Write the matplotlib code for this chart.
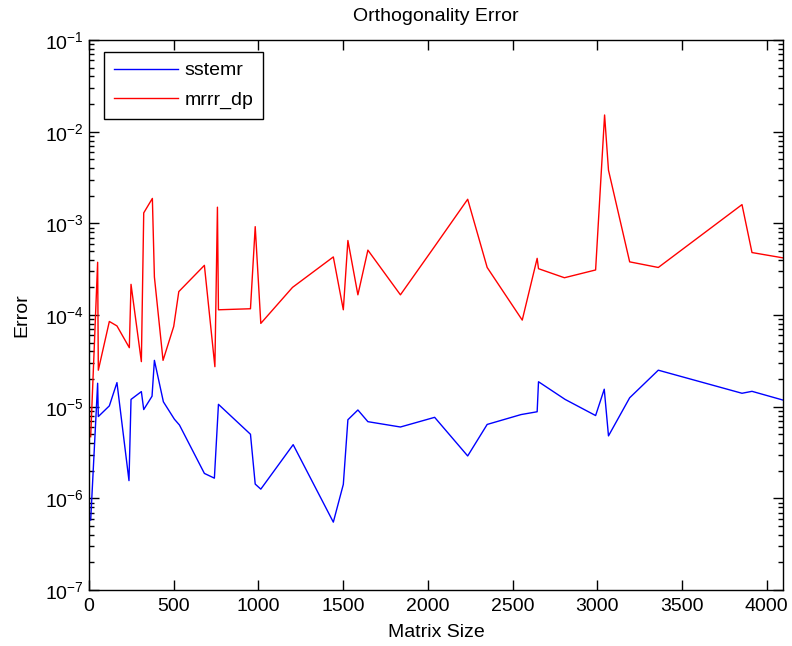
import matplotlib
matplotlib.use("Agg")
import matplotlib.pyplot as plt
from matplotlib.ticker import LogLocator, NullFormatter

plt.rcParams['font.family'] = ['Liberation Sans', 'DejaVu Sans']

# Data
sstemr_x = [10, 51, 55, 120, 165, 236, 248, 309, 323, 372, 386, 439, 504, 534,
            681, 740, 764, 953, 981, 1014, 1205, 1442, 1501, 1528, 1587, 1646,
            1838, 2040, 2235, 2350, 2550, 2645, 2653, 2810, 2990, 3041, 3066,
            3191, 3360, 3854, 3913, 4096]
sstemr_y = [5.8e-7, 1.8e-5, 7.8e-6, 1.02e-5, 1.83e-5, 1.56e-6, 1.2e-5, 1.46e-5,
            9.3e-6, 1.3e-5, 3.2e-5, 1.13e-5, 7.3e-6, 6.3e-6, 1.87e-6, 1.66e-6,
            1.06e-5, 5.0e-6, 1.43e-6, 1.26e-6, 3.85e-6, 5.5e-7, 1.42e-6, 7.2e-6,
            9.2e-6, 6.86e-6, 6.0e-6, 7.65e-6, 2.9e-6, 6.4e-6, 8.2e-6, 8.8e-6,
            1.87e-5, 1.2e-5, 8.0e-6, 1.55e-5, 4.8e-6, 1.25e-5, 2.5e-5, 1.4e-5,
            1.47e-5, 1.18e-5]

mrrr_x = [10, 51, 55, 120, 165, 238, 248, 309, 323, 374, 386, 437, 500, 530,
          681, 743, 758, 764, 953, 981, 1014, 1201, 1442, 1501, 1528, 1587, 1646,
          1838, 2040, 2235, 2350, 2557, 2645, 2653, 2806, 2990, 3043, 3066, 3191,
          3360, 3854, 3913, 4096]
mrrr_y = [4.7e-6, 3.76e-4, 2.5e-5, 8.5e-5, 7.6e-5, 4.4e-5, 2.16e-4, 3.1e-5,
          1.3e-3, 1.87e-3, 2.6e-4, 3.2e-5, 7.5e-5, 1.8e-4, 3.48e-4, 2.73e-5,
          1.5e-3, 1.14e-4, 1.17e-4, 9.2e-4, 8.1e-5, 2.0e-4, 4.3e-4, 1.14e-4,
          6.5e-4, 1.66e-4, 5.1e-4, 1.66e-4, 5.6e-4, 1.83e-3, 3.3e-4, 8.8e-5,
          4.15e-4, 3.2e-4, 2.55e-4, 3.1e-4, 1.52e-2, 3.8e-3, 3.8e-4, 3.3e-4,
          1.6e-3, 4.8e-4, 4.2e-4]

xticks = [0, 500, 1000, 1500, 2000, 2500, 3000, 3500, 4000]

fig = plt.figure(figsize=(7.92, 6.46), dpi=100)
ax = fig.add_axes([89/792, 56/646, 694/792, 550/646])

ax.plot(sstemr_x, sstemr_y, color='#0000ff', lw=1.0, label='sstemr')
ax.plot(mrrr_x, mrrr_y, color='#ff0000', lw=1.0, label='mrrr_dp')

ax.set_yscale('log')
ax.set_xlim(0, 4096)
ax.set_ylim(1e-7, 1e-1)
ax.set_xticks(xticks)
ax.yaxis.set_major_locator(LogLocator(base=10, numticks=10))
ax.yaxis.set_minor_locator(LogLocator(base=10, subs=range(2, 10), numticks=10))
ax.yaxis.set_minor_formatter(NullFormatter())

ax.tick_params(which='both', direction='in', top=True, right=True,
               labelsize=14, width=1.0, color='black')
ax.tick_params(which='major', length=7)
ax.tick_params(which='minor', length=3.5)
ax.tick_params(axis='x', pad=6)
for s in ax.spines.values():
    s.set_linewidth(1.0)

ax.set_title('Orthogonality Error', fontsize=14, pad=14)
ax.set_xlabel('Matrix Size', fontsize=14, labelpad=6)
ax.set_ylabel('Error', fontsize=14, labelpad=11)

leg = ax.legend(loc='upper left', bbox_to_anchor=(15/694, 1 - 12/550),
                borderaxespad=0, fontsize=14, fancybox=False, framealpha=1,
                edgecolor='black', handlelength=3.3, handletextpad=0.35,
                borderpad=0.5, labelspacing=0.62)
leg.get_frame().set_linewidth(1.0)

fig.savefig('out.png', dpi=100)
